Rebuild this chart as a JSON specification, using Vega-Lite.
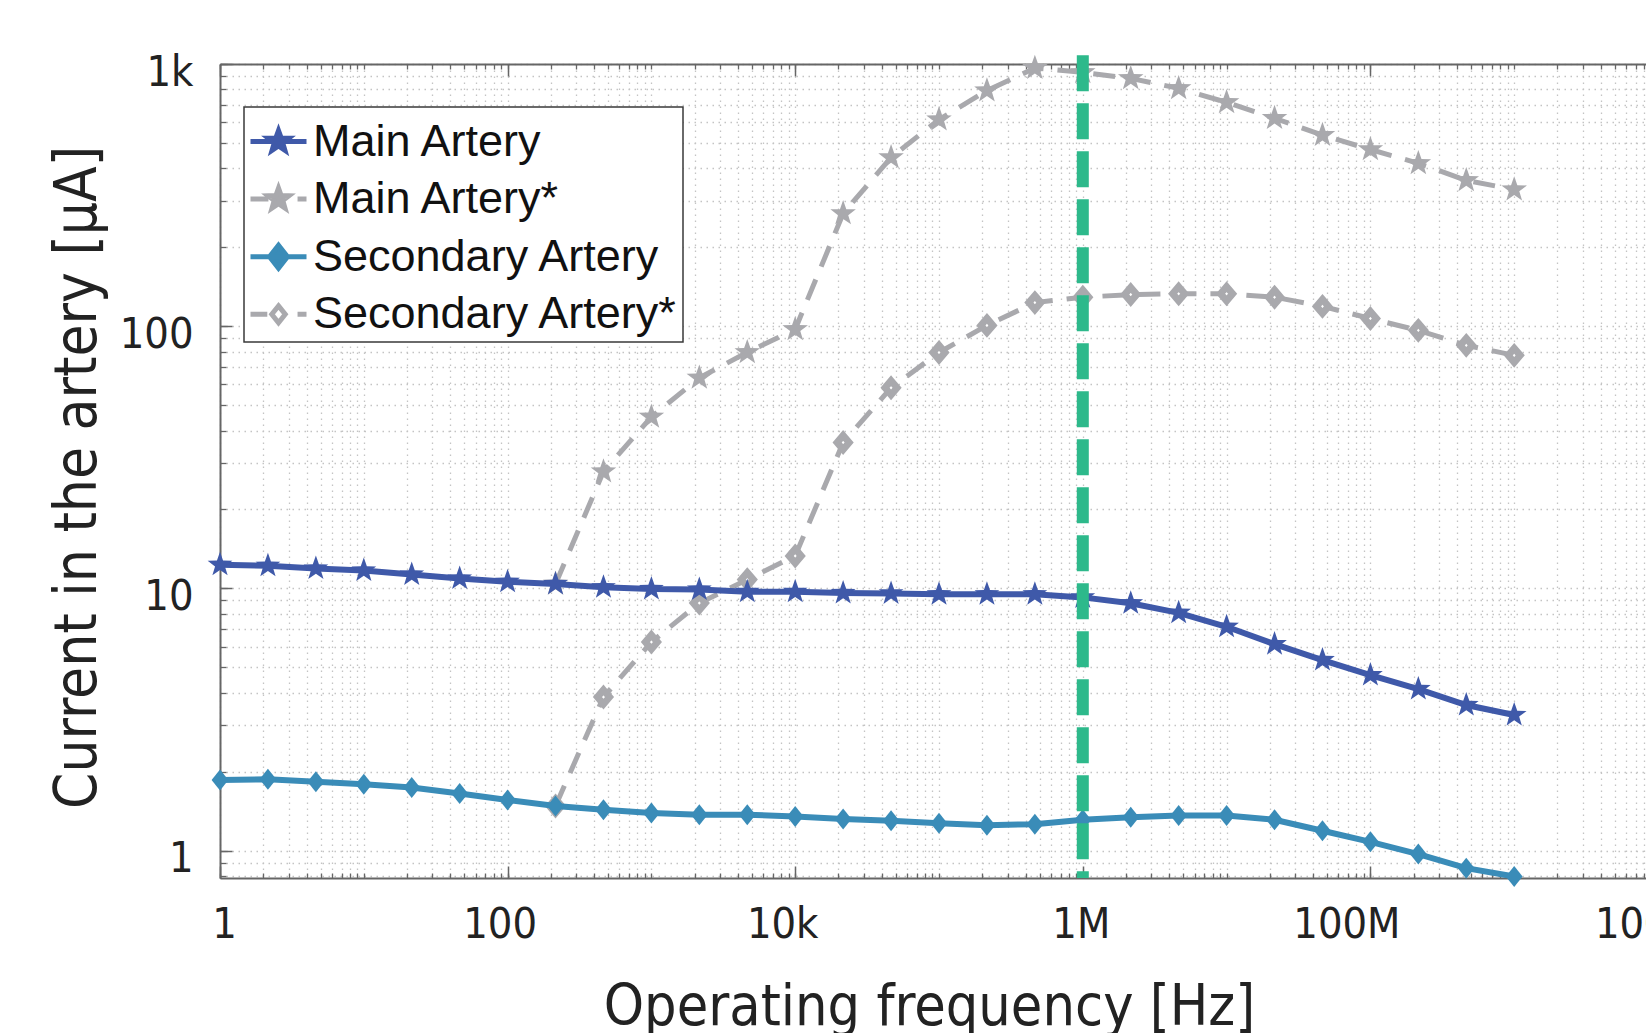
{
  "$schema": "https://vega.github.io/schema/vega-lite/v6.json",
  "width": 1426,
  "height": 814,
  "autosize": {"type": "none"},
  "padding": {"left": 220, "top": 64, "right": 0, "bottom": 155},
  "background": "white",
  "config": {"view": {"stroke": null}},
  "datasets": {
    "d": [
      {"s": "Main Artery", "f": 1, "I": 12.3},
      {"s": "Main Artery", "f": 2.154, "I": 12.2},
      {"s": "Main Artery", "f": 4.642, "I": 11.9},
      {"s": "Main Artery", "f": 10, "I": 11.7},
      {"s": "Main Artery", "f": 21.54, "I": 11.3},
      {"s": "Main Artery", "f": 46.42, "I": 10.9},
      {"s": "Main Artery", "f": 100, "I": 10.6},
      {"s": "Main Artery", "f": 215.4, "I": 10.4},
      {"s": "Main Artery", "f": 464.2, "I": 10.1},
      {"s": "Main Artery", "f": 1000, "I": 9.94},
      {"s": "Main Artery", "f": 2154, "I": 9.9},
      {"s": "Main Artery", "f": 4642, "I": 9.7},
      {"s": "Main Artery", "f": 10000, "I": 9.7},
      {"s": "Main Artery", "f": 21544, "I": 9.6},
      {"s": "Main Artery", "f": 46416, "I": 9.57},
      {"s": "Main Artery", "f": 100000, "I": 9.5},
      {"s": "Main Artery", "f": 215443, "I": 9.5},
      {"s": "Main Artery", "f": 464159, "I": 9.5},
      {"s": "Main Artery", "f": 1000000, "I": 9.24},
      {"s": "Main Artery", "f": 2154435, "I": 8.77},
      {"s": "Main Artery", "f": 4641589, "I": 8.07},
      {"s": "Main Artery", "f": 10000000, "I": 7.14},
      {"s": "Main Artery", "f": 21544347, "I": 6.13},
      {"s": "Main Artery", "f": 46415888, "I": 5.33},
      {"s": "Main Artery", "f": 100000000, "I": 4.67},
      {"s": "Main Artery", "f": 215443469, "I": 4.13},
      {"s": "Main Artery", "f": 464158883, "I": 3.59},
      {"s": "Main Artery", "f": 1000000000, "I": 3.29},
      {"s": "Main Artery*", "f": 215.4, "I": 10.4},
      {"s": "Main Artery*", "f": 464.2, "I": 27.9},
      {"s": "Main Artery*", "f": 1000, "I": 45.1},
      {"s": "Main Artery*", "f": 2154, "I": 63.5},
      {"s": "Main Artery*", "f": 4642, "I": 79.5},
      {"s": "Main Artery*", "f": 10000, "I": 97.3},
      {"s": "Main Artery*", "f": 21544, "I": 269},
      {"s": "Main Artery*", "f": 46416, "I": 440},
      {"s": "Main Artery*", "f": 100000, "I": 614},
      {"s": "Main Artery*", "f": 215443, "I": 792},
      {"s": "Main Artery*", "f": 464159, "I": 965},
      {"s": "Main Artery*", "f": 1000000, "I": 929},
      {"s": "Main Artery*", "f": 2154435, "I": 881},
      {"s": "Main Artery*", "f": 4641589, "I": 807},
      {"s": "Main Artery*", "f": 10000000, "I": 714},
      {"s": "Main Artery*", "f": 21544347, "I": 621},
      {"s": "Main Artery*", "f": 46415888, "I": 535},
      {"s": "Main Artery*", "f": 100000000, "I": 472},
      {"s": "Main Artery*", "f": 215443469, "I": 418},
      {"s": "Main Artery*", "f": 464158883, "I": 360},
      {"s": "Main Artery*", "f": 1000000000, "I": 332},
      {"s": "Secondary Artery", "f": 1, "I": 1.86},
      {"s": "Secondary Artery", "f": 2.154, "I": 1.87},
      {"s": "Secondary Artery", "f": 4.642, "I": 1.83},
      {"s": "Secondary Artery", "f": 10, "I": 1.79},
      {"s": "Secondary Artery", "f": 21.54, "I": 1.74},
      {"s": "Secondary Artery", "f": 46.42, "I": 1.65},
      {"s": "Secondary Artery", "f": 100, "I": 1.56},
      {"s": "Secondary Artery", "f": 215.4, "I": 1.48},
      {"s": "Secondary Artery", "f": 464.2, "I": 1.43},
      {"s": "Secondary Artery", "f": 1000, "I": 1.39},
      {"s": "Secondary Artery", "f": 2154, "I": 1.37},
      {"s": "Secondary Artery", "f": 4642, "I": 1.37},
      {"s": "Secondary Artery", "f": 10000, "I": 1.35},
      {"s": "Secondary Artery", "f": 21544, "I": 1.32},
      {"s": "Secondary Artery", "f": 46416, "I": 1.3},
      {"s": "Secondary Artery", "f": 100000, "I": 1.27},
      {"s": "Secondary Artery", "f": 215443, "I": 1.25},
      {"s": "Secondary Artery", "f": 464159, "I": 1.26},
      {"s": "Secondary Artery", "f": 1000000, "I": 1.31},
      {"s": "Secondary Artery", "f": 2154435, "I": 1.34},
      {"s": "Secondary Artery", "f": 4641589, "I": 1.36},
      {"s": "Secondary Artery", "f": 10000000, "I": 1.36},
      {"s": "Secondary Artery", "f": 21544347, "I": 1.31},
      {"s": "Secondary Artery", "f": 46415888, "I": 1.19},
      {"s": "Secondary Artery", "f": 100000000, "I": 1.08},
      {"s": "Secondary Artery", "f": 215443469, "I": 0.97},
      {"s": "Secondary Artery", "f": 464158883, "I": 0.857},
      {"s": "Secondary Artery", "f": 1000000000, "I": 0.796},
      {"s": "Secondary Artery*", "f": 215.4, "I": 1.48},
      {"s": "Secondary Artery*", "f": 464.2, "I": 3.85},
      {"s": "Secondary Artery*", "f": 1000, "I": 6.24},
      {"s": "Secondary Artery*", "f": 2154, "I": 8.79},
      {"s": "Secondary Artery*", "f": 4642, "I": 10.8},
      {"s": "Secondary Artery*", "f": 10000, "I": 13.3},
      {"s": "Secondary Artery*", "f": 21544, "I": 36},
      {"s": "Secondary Artery*", "f": 46416, "I": 58.2},
      {"s": "Secondary Artery*", "f": 100000, "I": 79.4},
      {"s": "Secondary Artery*", "f": 215443, "I": 100.7},
      {"s": "Secondary Artery*", "f": 464159, "I": 123},
      {"s": "Secondary Artery*", "f": 1000000, "I": 129},
      {"s": "Secondary Artery*", "f": 2154435, "I": 132},
      {"s": "Secondary Artery*", "f": 4641589, "I": 133},
      {"s": "Secondary Artery*", "f": 10000000, "I": 133},
      {"s": "Secondary Artery*", "f": 21544347, "I": 129},
      {"s": "Secondary Artery*", "f": 46415888, "I": 119},
      {"s": "Secondary Artery*", "f": 100000000, "I": 107},
      {"s": "Secondary Artery*", "f": 215443469, "I": 96.4},
      {"s": "Secondary Artery*", "f": 464158883, "I": 84.5},
      {"s": "Secondary Artery*", "f": 1000000000, "I": 77.4}
    ]
  },
  "data": {"name": "d"},
  "resolve": {"axis": {"x": "independent", "y": "independent"}},
  "layer": [
    {
      "transform": [{"filter": "datum.s === 'Main Artery*' || datum.s === 'Secondary Artery*'"}],
      "mark": {"type": "line", "strokeWidth": 5, "strokeDash": [22, 14]},
      "encoding": {
        "x": {"field": "f", "type": "quantitative",
          "scale": {"type": "log", "domain": [1, 10000000000], "range": [0, 1438], "nice": false},
          "axis": {"orient": "bottom", "values": [1,2,3,4,5,6,7,8,9,10,20,30,40,50,60,70,80,90,100,200,300,400,500,600,700,800,900,1000,2000,3000,4000,5000,6000,7000,8000,9000,1e4,2e4,3e4,4e4,5e4,6e4,7e4,8e4,9e4,1e5,2e5,3e5,4e5,5e5,6e5,7e5,8e5,9e5,1e6,2e6,3e6,4e6,5e6,6e6,7e6,8e6,9e6,1e7,2e7,3e7,4e7,5e7,6e7,7e7,8e7,9e7,1e8,2e8,3e8,4e8,5e8,6e8,7e8,8e8,9e8,1e9,2e9,3e9,4e9,5e9,6e9,7e9,8e9,9e9,1e10],
            "grid": true, "gridDash": [1.5, 4.5], "gridColor": "#c4c4c4", "gridWidth": 1.3,
            "ticks": true, "tickSize": -5, "tickColor": "#666666", "tickWidth": 1.3,
            "labels": false, "domain": false, "title": null}},
        "y": {"field": "I", "type": "quantitative",
          "scale": {"type": "log", "domain": [0.786, 1000], "nice": false},
          "axis": {"orient": "left", "values": [0.8,0.9,1,2,3,4,5,6,7,8,9,10,20,30,40,50,60,70,80,90,100,200,300,400,500,600,700,800,900,1000],
            "grid": true, "gridDash": [1.5, 4.5], "gridColor": "#c4c4c4", "gridWidth": 1.3,
            "ticks": true, "tickSize": -6, "tickColor": "#666666", "tickWidth": 1.3,
            "labels": false, "domain": false, "title": null}},
        "color": {"field": "s", "type": "nominal",
          "scale": {"domain": ["Main Artery", "Main Artery*", "Secondary Artery", "Secondary Artery*"],
                    "range": ["#3f59a9", "#a9a9ad", "#3a8cb8", "#a9a9ad"]},
          "legend": {
            "orient": "none", "legendX": 24, "legendY": 43, "title": null,
            "strokeColor": "#3a3a3a", "fillColor": "white", "padding": 4,
            "labelFont": "Liberation Sans", "labelFontSize": 45, "labelColor": "#111111",
            "labelLimit": 700, "labelOffset": 4, "rowPadding": 3.6, "symbolSize": 3136,
            "encode": {
              "legend": {"update": {"strokeWidth": {"value": 1.5}}},
              "symbols": {"update": {
              "shape": {"signal": "datum.value === 'Main Artery' ? 'M-1,0H1M0,-0.39L0.094,-0.129L0.371,-0.121L0.152,0.049L0.229,0.316L0,0.16L-0.229,0.316L-0.152,0.049L-0.371,-0.121L-0.094,-0.129Z' : datum.value === 'Main Artery*' ? 'M-1,0H-0.36M0.68,0H1M0,-0.39L0.094,-0.129L0.371,-0.121L0.152,0.049L0.229,0.316L0,0.16L-0.229,0.316L-0.152,0.049L-0.371,-0.121L-0.094,-0.129Z' : datum.value === 'Secondary Artery' ? 'M-1,0H1M0,-0.41L0.32,0L0,0.41L-0.32,0Z' : 'M-1,0H-0.4M0.68,0H1M0,-0.3L0.24,0L0,0.3L-0.24,0Z'"},
              "fill": {"signal": "datum.value === 'Secondary Artery*' ? 'white' : scale('color', datum.value)"},
              "stroke": {"signal": "scale('color', datum.value)"},
              "strokeWidth": {"value": 5},
              "strokeDash": {"value": []},
              "size": {"value": 3136},
              "opacity": {"value": 1}
            }}}
          }}
      }
    },
    {
      "transform": [{"filter": "datum.s === 'Main Artery*'"}],
      "mark": {"type": "point", "shape": "M0,-1L0.235,-0.324L0.951,-0.309L0.38,0.124L0.588,0.809L0,0.4L-0.588,0.809L-0.38,0.124L-0.951,-0.309L-0.235,-0.324Z", "size": 720, "filled": true, "color": "#a9a9ad", "opacity": 1},
      "encoding": {
        "x": {"field": "f", "type": "quantitative",
          "axis": {"orient": "bottom", "values": [1, 100, 10000, 1000000, 100000000, 10000000000],
            "labelExpr": "['1','100','10k','1M','100M','10G'][round(log(datum.value)/LN10/2)]",
            "ticks": false, "grid": false, "domain": true, "domainColor": "#666666", "domainWidth": 2,
            "labelFont": "DejaVu Sans Condensed, Liberation Sans", "labelFontSize": 43, "labelColor": "#222222",
            "labelPadding": 25, "labelFlush": false, "labelOverlap": false, "labelBound": false,
            "labelOffset": {"condition": {"test": "datum.value < 10", "value": 4}, "expr": "datum.value < 1000 ? -8 : datum.value < 100000 ? -13 : datum.value < 10000000 ? -2 : -24"},
            "title": "Operating frequency [Hz]", "titleFont": "DejaVu Sans Condensed, Liberation Sans",
            "titleFontSize": 57, "titleFontWeight": "normal", "titleColor": "#222222",
            "titleBaseline": "alphabetic", "titleY": 146, "titleX": 709}},
        "y": {"field": "I", "type": "quantitative",
          "axis": {"orient": "left", "values": [1, 10, 100, 1000],
            "labelExpr": "['1','10','100','1k'][round(log(datum.value)/LN10)]",
            "ticks": false, "grid": false, "domain": true, "domainColor": "#666666", "domainWidth": 2,
            "labelFont": "DejaVu Sans Condensed, Liberation Sans", "labelFontSize": 43, "labelColor": "#222222",
            "labelPadding": 27, "labelOffset": 8, "labelFlush": false, "labelOverlap": false,
            "title": "Current in the artery [μA]", "titleFont": "DejaVu Sans Condensed, Liberation Sans",
            "titleFontSize": 58, "titleFontWeight": "normal", "titleColor": "#222222",
            "titleBaseline": "alphabetic", "titleX": -125, "titleY": 413}}
      }
    },
    {
      "transform": [{"filter": "datum.s === 'Secondary Artery*'"}],
      "mark": {"type": "point", "shape": "M0,-1L0.85,0L0,1L-0.85,0Z", "size": 200, "filled": false, "fill": "white", "stroke": "#a9a9ad", "strokeWidth": 7, "opacity": 1, "fillOpacity": 1},
      "encoding": {
        "x": {"field": "f", "type": "quantitative",
          "axis": {"orient": "bottom", "values": [1, 100, 10000, 1000000, 100000000, 10000000000],
            "ticks": true, "tickSize": -12, "tickColor": "#666666", "tickWidth": 1.5,
            "labels": false, "domain": false, "grid": false, "title": null}},
        "y": {"field": "I", "type": "quantitative",
          "axis": {"orient": "left", "values": [1, 10, 100, 1000],
            "ticks": true, "tickSize": -12, "tickColor": "#666666", "tickWidth": 1.5,
            "labels": false, "domain": false, "grid": false, "title": null}}
      }
    },
    {
      "transform": [{"filter": "datum.s === 'Main Artery'"}],
      "mark": {"type": "line", "strokeWidth": 6, "color": "#3f59a9"},
      "encoding": {
        "x": {"field": "f", "type": "quantitative",
          "axis": {"orient": "top", "values": [1,2,3,4,5,6,7,8,9,10,20,30,40,50,60,70,80,90,100,200,300,400,500,600,700,800,900,1000,2000,3000,4000,5000,6000,7000,8000,9000,1e4,2e4,3e4,4e4,5e4,6e4,7e4,8e4,9e4,1e5,2e5,3e5,4e5,5e5,6e5,7e5,8e5,9e5,1e6,2e6,3e6,4e6,5e6,6e6,7e6,8e6,9e6,1e7,2e7,3e7,4e7,5e7,6e7,7e7,8e7,9e7,1e8,2e8,3e8,4e8,5e8,6e8,7e8,8e8,9e8,1e9,2e9,3e9,4e9,5e9,6e9,7e9,8e9,9e9,1e10],
            "ticks": true, "tickSize": -5, "tickColor": "#666666", "tickWidth": 1.3,
            "labels": false, "domain": true, "domainColor": "#666666", "domainWidth": 2, "grid": false, "title": null}},
        "y": {"field": "I", "type": "quantitative", "axis": null}
      }
    },
    {
      "transform": [{"filter": "datum.s === 'Secondary Artery'"}],
      "mark": {"type": "line", "strokeWidth": 6, "color": "#3a8cb8"},
      "encoding": {
        "x": {"field": "f", "type": "quantitative",
          "axis": {"orient": "top", "values": [1, 100, 10000, 1000000, 100000000, 10000000000],
            "ticks": true, "tickSize": -12, "tickColor": "#666666", "tickWidth": 1.5,
            "labels": false, "domain": false, "grid": false, "title": null}},
        "y": {"field": "I", "type": "quantitative", "axis": null}
      }
    },
    {
      "transform": [{"filter": "datum.s === 'Main Artery'"}],
      "mark": {"type": "point", "shape": "M0,-1L0.235,-0.324L0.951,-0.309L0.38,0.124L0.588,0.809L0,0.4L-0.588,0.809L-0.38,0.124L-0.951,-0.309L-0.235,-0.324Z", "size": 676, "filled": true, "color": "#3f59a9", "opacity": 1},
      "encoding": {
        "x": {"field": "f", "type": "quantitative", "axis": null},
        "y": {"field": "I", "type": "quantitative", "axis": null}
      }
    },
    {
      "transform": [{"filter": "datum.s === 'Secondary Artery'"}],
      "mark": {"type": "point", "shape": "M0,-1L0.8,0L0,1L-0.8,0Z", "size": 441, "filled": true, "color": "#3a8cb8", "opacity": 1},
      "encoding": {
        "x": {"field": "f", "type": "quantitative", "axis": null},
        "y": {"field": "I", "type": "quantitative", "axis": null}
      }
    },
    {
      "data": {"values": [{"f": 1000000}]},
      "mark": {"type": "rule", "color": "#2db98b", "strokeWidth": 12, "strokeDash": [36, 12]},
      "encoding": {
        "x": {"field": "f", "type": "quantitative", "axis": null},
        "y": {"datum": 1080, "type": "quantitative", "axis": null},
        "y2": {"datum": 0.786}
      }
    }
  ]
}
